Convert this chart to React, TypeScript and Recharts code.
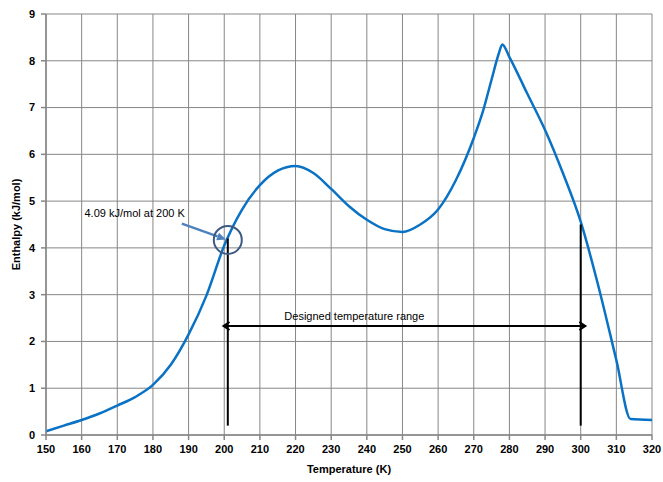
import { LineChart, Line, XAxis, YAxis, CartesianGrid, ReferenceLine, ReferenceDot } from 'recharts'

// temperature (K) and enthalpy (kJ/mol)
const temperatures = [150, 155, 160, 165, 170, 175, 180, 185, 190, 195, 200, 205, 210, 215, 220, 225, 230, 235, 240, 245, 250, 255, 260, 265, 270, 272.5, 275, 277, 278, 280, 285, 290, 295, 300, 305, 310, 314, 320]
const enthalpy = [0.08, 0.2, 0.32, 0.46, 0.63, 0.81, 1.07, 1.5, 2.15, 2.98, 4.05, 4.82, 5.34, 5.65, 5.75, 5.6, 5.26, 4.89, 4.6, 4.4, 4.34, 4.5, 4.82, 5.45, 6.35, 6.9, 7.6, 8.15, 8.35, 8.08, 7.3, 6.52, 5.6, 4.56, 3.17, 1.6, 0.34, 0.32]

const xTicks = [150, 160, 170, 180, 190, 200, 210, 220, 230, 240, 250, 260, 270, 280, 290, 300, 310, 320]
const yTicks = [0, 1, 2, 3, 4, 5, 6, 7, 8, 9]

// designed range: 200 K .. 300 K
const rangeStart = 201
const rangeEnd = 300
const pointT = 201
const pointH = 4.17

const data = temperatures.map((t, i) => ({ t, h: enthalpy[i] }))

const FONT = '"Liberation Sans", Arial, sans-serif'
const GRID = '#878787'

const DoubleArrow = (props: any) => {
  const { x1, y1, x2, y2 } = props
  return (
    <g>
      <line x1={x1} y1={y1} x2={x2} y2={y2} stroke="#000" strokeWidth={2} />
      <path d={`M${x1 + 6},${y1 - 4} L${x1},${y1} L${x1 + 6},${y1 + 4}`} stroke="#000" strokeWidth={2} fill="none" />
      <path d={`M${x2 - 6},${y2 - 4} L${x2},${y2} L${x2 - 6},${y2 + 4}`} stroke="#000" strokeWidth={2} fill="none" />
    </g>
  )
}

const Pointer = (props: any) => {
  const { x1, y1, x2, y2 } = props
  const a = Math.atan2(y2 - y1, x2 - x1)
  const L = 9
  const W = 4
  const bx = x2 - L * Math.cos(a)
  const by = y2 - L * Math.sin(a)
  const px = -Math.sin(a) * W
  const py = Math.cos(a) * W
  return (
    <g>
      <line x1={x1} y1={y1} x2={bx} y2={by} stroke="#4f81bd" strokeWidth={2.5} />
      <path d={`M${x2},${y2} L${bx + px},${by + py} L${bx - px},${by - py} Z`} fill="#4f81bd" />
    </g>
  )
}

export default function App() {
  return (
    <div style={{ position: 'absolute', left: 0, top: 0, background: '#fff' }}>
      <LineChart width={663} height={482} data={data} margin={{ top: 14, right: 11, bottom: 21, left: 10 }}>
        <CartesianGrid stroke={GRID} strokeWidth={1} />
        <XAxis
          dataKey="t"
          type="number"
          domain={[150, 320]}
          ticks={xTicks}
          interval={0}
          height={26}
          tickSize={5}
          tickMargin={5}
          stroke={GRID}
          strokeWidth={1.5}
          tick={{ fontSize: 11, fontWeight: 'bold', fill: '#000', fontFamily: FONT }}
          label={{ value: 'Temperature (K)', position: 'bottom', offset: 4, style: { fontSize: 11, fontWeight: 'bold', fill: '#000', fontFamily: FONT } }}
        />
        <YAxis
          type="number"
          domain={[0, 9]}
          ticks={yTicks}
          interval={0}
          width={36}
          tickSize={5}
          tickMargin={6}
          stroke={GRID}
          strokeWidth={1.5}
          tick={{ fontSize: 11, fontWeight: 'bold', fill: '#000', fontFamily: FONT }}
          label={{ value: 'Enthalpy (kJ/mol)', angle: -90, position: 'insideLeft', offset: 6, style: { textAnchor: 'middle', fontSize: 11, fontWeight: 'bold', fill: '#000', fontFamily: FONT } }}
        />
        <Line type="monotone" dataKey="h" stroke="#0a72c4" strokeWidth={2.5} dot={false} isAnimationActive={false} />
        <ReferenceLine segment={[{ x: rangeStart, y: 0.2 }, { x: rangeStart, y: 4.2 }]} stroke="#000" strokeWidth={2} />
        <ReferenceLine segment={[{ x: rangeEnd, y: 0.2 }, { x: rangeEnd, y: 4.5 }]} stroke="#000" strokeWidth={2} />
        <ReferenceLine segment={[{ x: 199.8, y: 2.33 }, { x: 301.3, y: 2.33 }]} shape={DoubleArrow} />
        <ReferenceLine segment={[{ x: 188.1, y: 4.52 }, { x: 200.5, y: 4.18 }]} shape={Pointer} />
        <ReferenceDot x={pointT} y={pointH} r={14} fill="none" stroke="#3c5a84" strokeWidth={2} />
        <ReferenceDot
          x={236.5}
          y={2.55}
          r={0}
          fill="none"
          stroke="none"
          label={{ value: 'Designed temperature range', position: 'center', style: { fontSize: 11, fill: '#000', fontFamily: FONT } }}
        />
        <ReferenceDot
          x={160.8}
          y={4.74}
          r={0}
          fill="none"
          stroke="none"
          label={{ value: '4.09 kJ/mol at 200 K', position: 'right', offset: 0, style: { fontSize: 11, fill: '#000', fontFamily: FONT } }}
        />
      </LineChart>
    </div>
  )
}
